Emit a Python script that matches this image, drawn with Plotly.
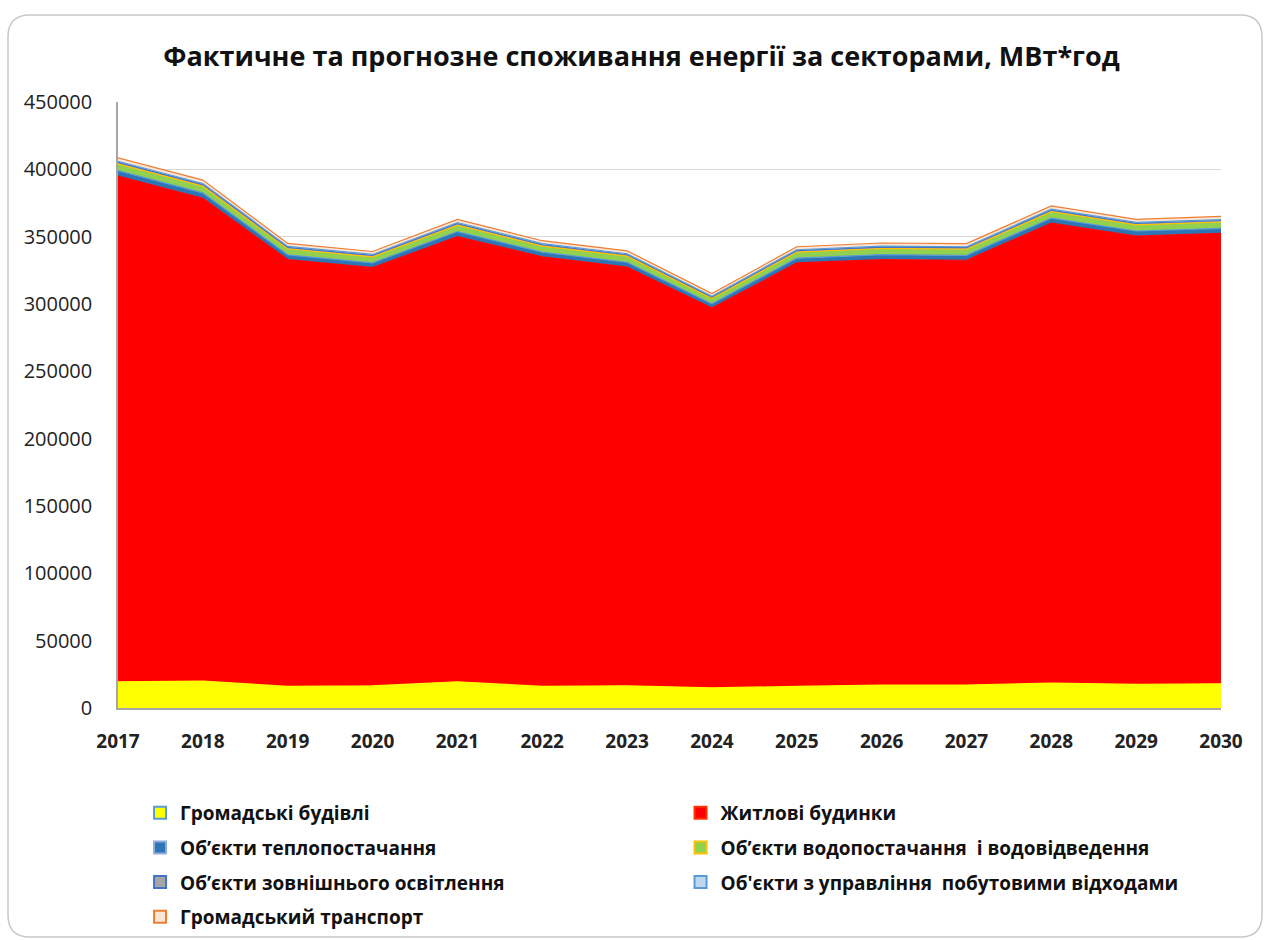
import plotly.graph_objects as go

years = [str(y) for y in range(2017, 2031)]

public_buildings = [19500, 20000, 16000, 16500, 19500, 16000, 16500, 15000, 16000, 17000, 17000, 18500, 17500, 18000]
residential = [375500, 358500, 317000, 310500, 330500, 319000, 311000, 282000, 314500, 316000, 315500, 341500, 333000, 334500]
heat_supply = [4000, 4000, 3500, 3500, 3800, 3500, 3500, 3200, 3500, 3600, 3600, 3800, 3700, 3700]
water_supply = [5000, 5000, 4500, 4500, 4800, 4500, 4500, 4000, 4500, 4600, 4600, 4800, 4600, 4700]
street_lighting = [1200, 1200, 1100, 1100, 1100, 1100, 1100, 1000, 1100, 1100, 1100, 1100, 1100, 1100]
waste_management = [800, 800, 700, 700, 800, 700, 700, 600, 700, 700, 700, 800, 700, 700]
public_transport = [2500, 2500, 2200, 2200, 2300, 2200, 2200, 2000, 2200, 2300, 2300, 2300, 2200, 2300]

# name, values, area fill, area edge, legend swatch fill, legend swatch border, legend column
series = [
    ("Громадські будівлі", public_buildings, "#FFFF00", "#FFFF00", "#FFFF00", "#5B9BD5", "legend"),
    ("Житлові будинки", residential, "#FF0000", "#FF0000", "#FF0000", "#FF3300", "legend2"),
    ("Об’єкти теплопостачання", heat_supply, "#2E75B6", "#5B9BD5", "#2E75B6", "#8FAADC", "legend"),
    ("Об’єкти водопостачання  і водовідведення", water_supply, "#92D050", "#FFC000", "#92D050", "#FFC000", "legend2"),
    ("Об’єкти зовнішнього освітлення", street_lighting, "#A5A5A5", "#4472C4", "#A5A5A5", "#4472C4", "legend"),
    ("Об'єкти з управління  побутовими відходами", waste_management, "#BDD7EE", "#5B9BD5", "#BDD7EE", "#5B9BD5", "legend2"),
    ("Громадський транспорт", public_transport, "#FBE5D6", "#ED7D31", "#FBE5D6", "#ED7D31", "legend"),
]

fig = go.Figure()
for name, vals, fill, edge, sw_fill, sw_edge, leg in series:
    fig.add_trace(go.Scatter(
        x=years, y=vals, name=name, mode="lines",
        stackgroup="one", fillcolor=fill,
        line=dict(color=edge, width=1.2),
        legendgroup=name, showlegend=False,
    ))

# square swatches for the two legend columns
for name, vals, fill, edge, sw_fill, sw_edge, leg in series:
    fig.add_trace(go.Scatter(
        x=[None], y=[None], name=name, mode="markers",
        marker=dict(symbol="square", size=12, color=sw_fill,
                    line=dict(color=sw_edge, width=2)),
        legendgroup=name, legend=leg, showlegend=True,
    ))

W, H = 1269, 940
ML, MR, MT, MB = 118, 48, 102, 232
plot_w, plot_h = W - ML - MR, H - MT - MB


def px_to_paper(px, py):
    return (px - ML) / plot_w, (H - MB - py) / plot_h


def rounded_frame(left, top, right, bottom, r):
    # rounded rectangle outline around the whole chart, expressed in paper units
    pts = {
        "a": px_to_paper(left + r, top), "b": px_to_paper(right - r, top),
        "c": px_to_paper(right, top), "d": px_to_paper(right, top + r),
        "e": px_to_paper(right, bottom - r), "f": px_to_paper(right, bottom),
        "g": px_to_paper(right - r, bottom), "h": px_to_paper(left + r, bottom),
        "i": px_to_paper(left, bottom), "j": px_to_paper(left, bottom - r),
        "k": px_to_paper(left, top + r), "l": px_to_paper(left, top),
    }
    f = lambda k: f"{pts[k][0]:.5f},{pts[k][1]:.5f}"
    return (f"M {f('a')} L {f('b')} Q {f('c')} {f('d')} L {f('e')} "
            f"Q {f('f')} {f('g')} L {f('h')} Q {f('i')} {f('j')} "
            f"L {f('k')} Q {f('l')} {f('a')} Z")


font_main = "Open Sans"
legend_common = dict(
    orientation="v", yref="container", yanchor="top", y=0.1555,
    font=dict(family=font_main, size=19, color="#111111", weight="bold"),
    traceorder="grouped", tracegroupgap=7, itemwidth=30,
    bgcolor="rgba(0,0,0,0)",
)

fig.update_layout(
    width=W, height=H,
    paper_bgcolor="white", plot_bgcolor="white",
    margin=dict(l=ML, r=MR, t=MT, b=MB),
    title=dict(
        text="<b>Фактичне та прогнозне споживання енергії за секторами, МВт*год</b>",
        x=0.5055, xanchor="center", y=0.940, yanchor="middle",
        font=dict(family=font_main, size=27, color="#111111"),
    ),
    xaxis=dict(
        type="category", range=[0, 13], showgrid=False,
        showline=True, linecolor="#A6A6A6", linewidth=1.5,
        ticks="", ticklabelstandoff=15,
        tickfont=dict(family=font_main, size=19, color="#222222", weight="bold"),
    ),
    yaxis=dict(
        range=[0, 450000], dtick=50000, tickformat="d",
        showgrid=True, gridcolor="#D9D9D9", gridwidth=1.2,
        showline=True, linecolor="#A6A6A6", linewidth=1.5,
        zeroline=False, ticks="", ticklabelstandoff=20,
        tickfont=dict(family=font_main, size=20, color="#222222"),
    ),
    legend=dict(x=0.02, xanchor="left", **legend_common),
    legend2=dict(x=0.51, xanchor="left", **legend_common),
    shapes=[dict(
        type="path", xref="paper", yref="paper",
        path=rounded_frame(8, 15, 1262, 937, 22),
        line=dict(color="#C8C8C8", width=1.5), layer="below",
    )],
)

fig.write_html("out.html")
